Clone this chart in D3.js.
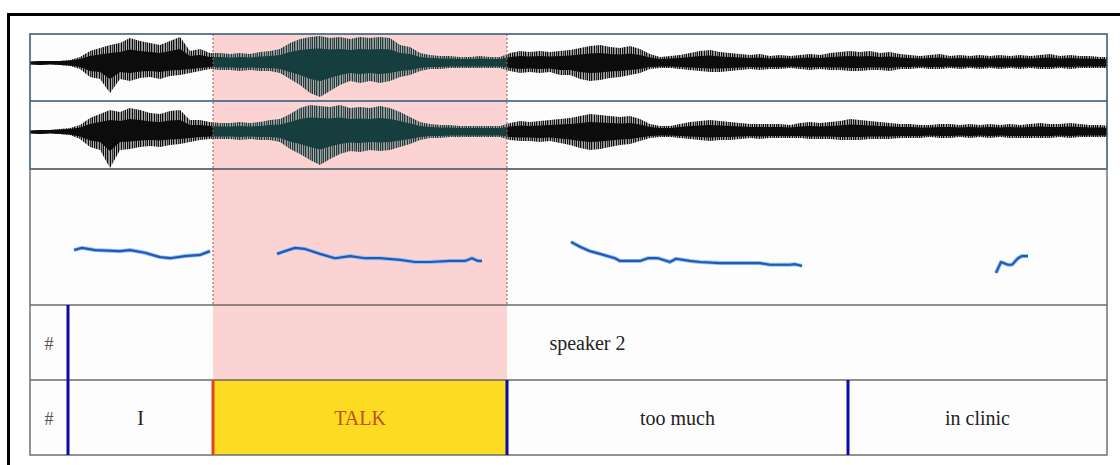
<!DOCTYPE html>
<html>
<head>
<meta charset="utf-8">
<script src="https://cdn.jsdelivr.net/npm/d3@7"></script>
<style>
  html, body { margin: 0; padding: 0; background: #fff; }
  svg { display: block; }
  .tier-label { font-family: "Liberation Serif", "Times New Roman", Tinos, "DejaVu Serif", serif; }
</style>
</head>
<body>
<div id="chart"></div>
<script>
(() => {
// time axis of the sound, seconds
const DURATION = 2.154;
const WAVE_STEP = 0.02;

// waveform envelope, one value every WAVE_STEP seconds (amplitude units)
const wave1Up = [1,2,2,2,3,6,12,15,18,20, 25,22,20,18,22,26,12,14,10,10, 9,10,9,11,12,14,20,24,26,27,
  25,26,24,26,25,26,25,18,16,10, 8,7,7,6,6,7,6,6,10,12, 11,12,11,12,13,15,17,18,16,15,
  17,14,9,6,7,8,10,12,13,11, 10,9,8,9,7,8,7,8,9,8, 10,11,12,11,12,10,11,9,8,7,
  8,9,7,8,7,8,7,8,7,8, 7,8,9,7,8,7,7,6,6];
const wave1Down = [1,2,1,2,3,6,14,16,30,16, 18,15,14,16,13,12,10,8,6,7, 7,8,7,8,8,10,16,22,30,34,
  28,22,18,20,18,20,18,14,12,8, 6,6,5,5,5,5,5,5,8,10, 9,10,9,12,12,16,18,17,15,14,
  12,10,6,5,5,6,7,8,9,9, 8,7,6,7,6,6,5,6,7,6, 7,7,8,8,7,7,8,6,6,5,
  6,6,5,6,5,6,5,6,5,6, 5,6,6,5,6,5,5,5,5];
const wave2Up = [1,2,2,3,4,7,14,18,22,20, 24,22,19,18,21,22,12,12,10,9, 9,10,9,10,12,13,18,24,27,26,
  25,27,24,25,24,26,24,20,15,10, 8,7,7,6,6,6,6,6,9,11, 10,11,12,13,14,16,18,17,16,15,
  16,13,8,6,6,8,10,11,12,11, 10,9,8,8,8,8,7,9,10,9, 10,11,13,12,11,10,9,8,8,7,
  7,8,8,7,8,7,8,7,8,7, 8,9,8,8,9,8,7,7,6];
const wave2Down = [1,2,1,2,3,7,15,18,36,18, 17,15,14,15,13,12,10,8,7,7, 7,8,7,8,8,10,17,22,28,33,
  27,22,19,20,18,19,18,15,12,8, 6,6,5,5,5,5,5,5,8,9, 9,10,9,11,13,16,18,17,15,13,
  12,9,6,5,5,6,7,8,9,8, 8,7,6,7,6,6,6,6,7,7, 7,8,8,8,7,7,7,6,6,6,
  5,6,6,5,6,5,6,5,6,6, 6,6,6,5,6,5,5,5,5];

// pitch track (Hz); null separates voiced stretches
const pitchTimes = [0.088,0.104,0.130,0.180,0.200,0.230,0.260,0.280,0.310,0.340,0.360, null,
  0.494,0.510,0.530,0.550,0.580,0.610,0.640,0.670,0.700,0.740,0.770,0.800,0.840,0.870,0.884,0.896,0.904, null,
  1.082,1.100,1.120,1.140,1.170,1.180,1.220,1.236,1.256,1.280,1.292,1.320,1.340,1.380,1.460,1.480,1.520,1.530,1.544, null,
  1.932,1.942,1.956,1.964,1.976,1.984,1.996];
const pitchHz = [151,155,151,149,151,146,138,136,140,142,149, null,
  144,149,155,153,144,136,140,136,136,133,129,129,131,131,136,131,131, null,
  166,157,149,144,136,131,131,136,136,129,135,131,129,127,127,124,124,125,122, null,
  109,129,124,124,136,140,140];

// text grid
const tier1Bounds = [0, 0.076, DURATION];
const tier1Labels = ["#", "speaker 2"];
const tier2Bounds = [0, 0.076, 0.366, 0.954, 1.636, DURATION];
const tier2Labels = ["#", "I", "TALK", "too much", "in clinic"];
const selectedInterval = 2;

const width = 1120;
const height = 465;
const left = 30;
const right = 1107;
const rows = {
  wave1: [34, 101],
  wave2: [101, 169],
  pitch: [169, 305],
  tier1: [305, 380],
  tier2: [380, 455],
};

const svg = d3.select("#chart").append("svg").attr("width", width).attr("height", height);
const defs = svg.append("defs");
const x = d3.scaleLinear().domain([0, DURATION]).range([left, right]);
const selStart = tier2Bounds[selectedInterval];
const selEnd = tier2Bounds[selectedInterval + 1];

// outer frame runs past the picture edge
svg.append("rect")
  .attr("x", 8.5).attr("y", 14.5).attr("width", 1200).attr("height", 600)
  .attr("fill", "none").attr("stroke", "#000").attr("stroke-width", 3);

svg.append("rect")
  .attr("x", left).attr("y", rows.wave1[0])
  .attr("width", right - left).attr("height", rows.tier2[1] - rows.wave1[0])
  .attr("fill", "#fdfdfd");

// selection shading
svg.append("rect")
  .attr("x", x(selStart)).attr("y", rows.wave1[0])
  .attr("width", x(selEnd) - x(selStart)).attr("height", rows.tier1[1] - rows.wave1[0])
  .attr("fill", "#fbd3d3");

svg.append("rect")
  .attr("x", x(selStart)).attr("y", rows.tier2[0])
  .attr("width", x(selEnd) - x(selStart)).attr("height", rows.tier2[1] - rows.tier2[0])
  .attr("fill", "#fbdc22");

// waveform fill: darker teal inside the selection
const grad = defs.append("linearGradient").attr("id", "wave-fill")
  .attr("gradientUnits", "userSpaceOnUse")
  .attr("x1", left).attr("x2", right).attr("y1", 0).attr("y2", 0);
const f0 = (x(selStart) - left) / (right - left);
const f1 = (x(selEnd) - left) / (right - left);
[[0, "#0c0c0c"], [f0, "#0c0c0c"], [f0, "#163e3e"], [f1, "#163e3e"], [f1, "#0c0c0c"], [1, "#0c0c0c"]]
  .forEach(([o, c]) => grad.append("stop").attr("offset", o).attr("stop-color", c));

// uneven striped mask gives the outer envelope a hatched, spiky look
const stripes = defs.append("pattern").attr("id", "stripes")
  .attr("patternUnits", "userSpaceOnUse").attr("width", 11).attr("height", 20);
stripes.append("rect").attr("width", 11).attr("height", 20).attr("fill", "#2a2a2a");
[[0, 1.2], [2.1, 0.8], [3.6, 1.5], [6, 1], [7.7, 1.3], [9.6, 0.7]].forEach(([sx, sw]) => {
  stripes.append("rect").attr("x", sx).attr("width", sw).attr("height", 20).attr("fill", "#fff");
});
defs.append("mask").attr("id", "wave-mask")
  .attr("maskUnits", "userSpaceOnUse")
  .attr("x", 0).attr("y", 0).attr("width", width).attr("height", height)
  .append("rect").attr("width", width).attr("height", height).attr("fill", "url(#stripes)");

function drawWave(row, up, down, domain, id) {
  defs.append("clipPath").attr("id", id)
    .append("rect").attr("x", left).attr("y", row[0]).attr("width", right - left).attr("height", row[1] - row[0]);
  const y = d3.scaleLinear().domain(domain).range([row[1], row[0]]);
  // the dense core uses the same envelope on a half-height amplitude scale
  const yCore = d3.scaleLinear().domain([0, 1]).range([y(0), y(0) + (y(1) - y(0)) * 0.5]);
  const area = (scale, pad) => d3.area()
    .x((d, i) => x(i * WAVE_STEP))
    .y0((d, i) => scale(-down[i]) + pad)
    .y1((d) => scale(d) - pad);
  const g = svg.append("g").attr("clip-path", `url(#${id})`);
  g.append("path")
    .datum(up)
    .attr("mask", "url(#wave-mask)")
    .attr("d", area(y, 0))
    .attr("fill", "url(#wave-fill)");
  g.append("path")
    .datum(up)
    .attr("d", area(yCore, 1))
    .attr("fill", "url(#wave-fill)");
}

drawWave(rows.wave1, wave1Up, wave1Down, [-38, 29], "clip-w1");
drawWave(rows.wave2, wave2Up, wave2Down, [-37, 31], "clip-w2");

// dotted selection edges
[selStart, selEnd].forEach((t) => {
  svg.append("line")
    .attr("x1", x(t)).attr("x2", x(t))
    .attr("y1", rows.wave1[0]).attr("y2", rows.pitch[1])
    .attr("stroke", "#a05a5a").attr("stroke-width", 1)
    .attr("stroke-dasharray", "2,2");
});

// pitch
const yPitch = d3.scaleLinear().domain([50, 300]).range([rows.pitch[1], rows.pitch[0]]);
const pitchPoints = pitchTimes.map((t, i) => ({ t, f: pitchHz[i] }));
const pitchLine = d3.line()
  .defined((d) => d.t !== null && d.f !== null)
  .x((d) => x(d.t))
  .y((d) => yPitch(d.f));
svg.append("path").datum(pitchPoints).attr("d", pitchLine)
  .attr("fill", "none").attr("stroke", "#8fc3f2").attr("stroke-width", 4).attr("stroke-linejoin", "round");
svg.append("path").datum(pitchPoints).attr("d", pitchLine)
  .attr("fill", "none").attr("stroke", "#2557b8").attr("stroke-width", 2.2).attr("stroke-linejoin", "round");

// panel frames
svg.append("rect")
  .attr("x", left).attr("y", rows.wave1[0]).attr("width", right - left).attr("height", rows.wave2[1] - rows.wave1[0])
  .attr("fill", "none").attr("stroke", "#2d5673").attr("stroke-width", 1.5);
svg.append("line")
  .attr("x1", left).attr("x2", right).attr("y1", rows.wave2[0]).attr("y2", rows.wave2[0])
  .attr("stroke", "#2d5673").attr("stroke-width", 1.5);
svg.append("rect")
  .attr("x", left).attr("y", rows.pitch[0]).attr("width", right - left).attr("height", rows.tier2[1] - rows.pitch[0])
  .attr("fill", "none").attr("stroke", "#707070").attr("stroke-width", 1.5);
[rows.tier1[0], rows.tier2[0]].forEach((yy) => {
  svg.append("line")
    .attr("x1", left).attr("x2", right).attr("y1", yy).attr("y2", yy)
    .attr("stroke", "#6a6a6a").attr("stroke-width", 1.5);
});

function drawTier(row, bounds, labels, highlight) {
  const mid = (row[0] + row[1]) / 2;
  labels.forEach((label, i) => {
    const cx = (x(bounds[i]) + x(bounds[i + 1])) / 2;
    svg.append("text")
      .attr("class", "tier-label")
      .attr("x", cx).attr("y", mid + 7)
      .attr("text-anchor", "middle")
      .attr("font-size", label === "#" ? 18 : 20)
      .attr("fill", label === "#" ? "#555" : i === highlight ? "#c2501c" : "#222")
      .text(label);
  });
  bounds.slice(1, -1).forEach((t, j) => {
    svg.append("line")
      .attr("x1", x(t)).attr("x2", x(t))
      .attr("y1", row[0]).attr("y2", row[1])
      .attr("stroke", j + 1 === highlight ? "#e0461e" : "#0a0aa8")
      .attr("stroke-width", 3);
  });
}

drawTier(rows.tier1, tier1Bounds, tier1Labels, -1);
drawTier(rows.tier2, tier2Bounds, tier2Labels, selectedInterval);
})();
</script>
</body>
</html>
